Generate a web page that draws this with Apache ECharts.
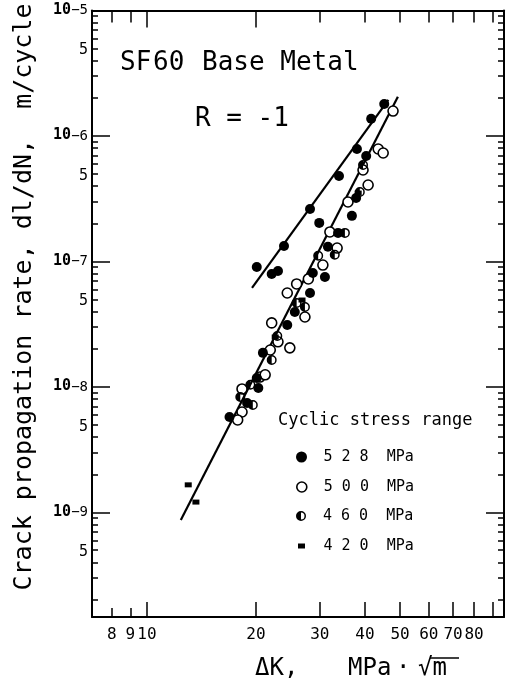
<!DOCTYPE html>
<html><head><meta charset="utf-8">
<script src="https://cdn.jsdelivr.net/npm/echarts@6/dist/echarts.min.js"></script>
<style>html,body{margin:0;padding:0;background:#fff}#c{width:509px;height:685px}</style>
</head><body><div id="c"></div>
<script>
// ---- data (ΔK in MPa·√m, dl/dN in m/cycle) ----
const xTickLabels = [8, 9, 10, 20, 30, 40, 50, 60, 70, 80];
const xLongTicks = [10, 20, 30, 40, 50, 60, 70, 80, 90];
const xShortTicks = [8, 9];
const xTopLong = [10, 20];
const xTopShort = [8, 9, 30, 40, 50, 60, 70, 80, 90];
const yDecadeExps = [-9, -8, -7, -6, -5];
const yFiveLabels = [5e-10, 5e-9, 5e-8, 5e-7, 5e-6];
const legendNames = ['528 MPa', '500 MPa', '460 MPa', '420 MPa'];

const s528 = [[45.2,1.80e-6],[41.6,1.37e-6],[38.0,7.88e-7],[33.9,4.80e-7],[28.2,2.62e-7],[23.9,1.33e-7],
  [20.1,9.03e-8],[22.1,7.95e-8],[23.0,8.40e-8],[29.9,2.03e-7],[40.3,6.93e-7],
  [37.8,3.21e-7],[36.8,2.31e-7],[33.7,1.69e-7],[31.6,1.31e-7],[28.7,8.10e-8],[31.0,7.52e-8],
  [28.2,5.61e-8],[25.6,3.96e-8],[24.4,3.12e-8],[20.9,1.87e-8],[20.1,1.18e-8],[20.3,9.82e-9],
  [18.9,7.46e-9],[16.9,5.77e-9]];
const s500 = [[47.8,1.58e-6],[43.5,7.88e-7],[44.9,7.32e-7],[39.5,5.36e-7],[40.8,4.07e-7],[35.9,2.98e-7],
  [32.0,1.72e-7],[33.5,1.28e-7],[30.6,9.37e-8],[25.9,6.62e-8],[24.4,5.61e-8],[27.9,7.26e-8],
  [27.3,3.61e-8],[22.1,3.24e-8],[23.0,2.29e-8],[24.8,2.05e-8],[21.9,1.97e-8],[20.5,1.20e-8],
  [21.2,1.25e-8],[18.3,9.64e-9],[18.3,6.32e-9],[17.8,5.46e-9]];
const s460 = [[39.5,5.88e-7],[38.7,3.58e-7],[35.2,1.69e-7],[33.0,1.13e-7],[29.7,1.11e-7],[27.3,4.34e-8],
  [25.9,4.67e-8],[22.9,2.55e-8],[22.1,1.64e-8],[19.3,1.04e-8],[19.6,7.19e-9],[18.1,8.32e-9]];
const s420 = [[13.0,1.66e-9],[13.65,1.21e-9],[22.6,2.50e-8],[26.8,4.93e-8],[38.3,3.51e-7]];
const fitUpper = [[19.5,6.15e-8],[46.4,1.94e-6]];
const fitLower = [[12.4,8.7e-10],[49.3,2.05e-6]];

// ---- build ----
const L = Math.log10;
const toLog = p => [L(p[0]), L(p[1])];
const F = 'DejaVu Sans Mono';
const X_MIN = L(7.05), X_MAX = L(96.8), Y_MIN = -9.833, Y_MAX = -5;
const yMinor = [];
for (let e = -10; e <= -6; e++) for (let m = 2; m <= 9; m++) {
  const v = L(m) + e; if (v > Y_MIN && v < Y_MAX) yMinor.push(v);
}
const HALF = 'path://M0,10A10,10 0 1,1 20,10A10,10 0 1,1 0,10ZM3,10A7,7 0 1,0 17,10A7,7 0 1,0 3,10ZM10,3A7,7 0 0,0 10,17Z';
const SQ = 'path://M0,0L7,0L7,5L0,5Z';
const blk = {color: '#000', width: 1.5};

function xAx(pos, ticks, len, line, label) {
  return {type: 'value', position: pos, min: X_MIN, max: X_MAX, splitLine: {show: false},
    axisLine: {show: !!line, onZero: false, lineStyle: {color: '#000', width: 2}},
    axisTick: {show: true, inside: true, length: len, customValues: ticks.map(L), lineStyle: blk},
    axisLabel: label || {show: false}};
}
function yAx(pos, ticks, len, line, label) {
  return {type: 'value', position: pos, min: Y_MIN, max: Y_MAX, splitLine: {show: false},
    axisLine: {show: !!line, onZero: false, lineStyle: {color: '#000', width: 2}},
    axisTick: {show: true, inside: true, length: len, customValues: ticks, lineStyle: blk},
    axisLabel: label || {show: false}};
}
const xLabel = {show: true, customValues: xTickLabels.map(L), margin: 10,
  formatter: v => String(Math.round(Math.pow(10, v))),
  color: '#000', fontFamily: F, fontSize: 16};
const yLabel = {show: true, margin: 4,
  customValues: yDecadeExps.concat(yFiveLabels.map(L)),
  formatter: v => Math.abs(v - Math.round(v)) < 1e-6
    ? '{b|10}{s|\u2212' + Math.abs(Math.round(v)) + '}' : '{n|5}',
  color: '#000', fontFamily: F, lineHeight: 16,
  rich: {
    b: {fontFamily: F, fontSize: 15, fontWeight: 'bold', lineHeight: 14, verticalAlign: 'bottom', color: '#000'},
    s: {fontFamily: F, fontSize: 14, lineHeight: 8, verticalAlign: 'top', color: '#000'},
    n: {fontFamily: F, fontSize: 15, lineHeight: 16, color: '#000', padding: [4, 0, 0, 0]}
  }};

const legRowY = [457, 487, 516, 546];
const legShift = [0, 0, 0, 2];
function mkLegend(i, icon, h, style) {
  return {show: true, selectedMode: false, orient: 'horizontal', left: 313 - 17 + legShift[i], top: legRowY[i] - 8,
    itemWidth: 34, itemHeight: h, padding: 0, itemGap: 0,
    data: [{name: legendNames[i], icon: icon, itemStyle: style}],
    formatter: n => n.replace(' MPa', '').split('').join(' ') + '  MPa',
    textStyle: {fontFamily: F, fontSize: 15, lineHeight: 16, color: '#000'}};
}

const option = {
  animation: false,
  backgroundColor: '#fff',
  grid: {left: 92, right: 5, top: 10.5, bottom: 68, containLabel: false, outerBoundsMode: 'none'},
  xAxis: [
    xAx('bottom', xLongTicks, 15, true, xLabel),
    xAx('bottom', xShortTicks, 9, false),
    xAx('top', xTopLong, 17, true),
    xAx('top', xTopShort, 12, false)
  ],
  yAxis: [
    yAx('left', yDecadeExps, 18, true, yLabel),
    yAx('left', yMinor, 6, false),
    yAx('right', yDecadeExps, 18, true),
    yAx('right', yMinor, 6, false)
  ],
  legend: [
    mkLegend(0, 'circle', 11, {color: '#000', borderWidth: 0}),
    mkLegend(1, 'circle', 10, {color: '#fff', borderColor: '#000', borderWidth: 1.6}),
    mkLegend(2, HALF, 10, {color: '#000', borderWidth: 0}),
    mkLegend(3, SQ, 5, {color: '#000', borderWidth: 0})
  ],
  series: [
    {type: 'line', name: 'fitU', data: fitUpper.map(toLog), symbol: 'none', silent: true,
      lineStyle: {color: '#000', width: 2.2}, z: 1},
    {type: 'line', name: 'fitL', data: fitLower.map(toLog), symbol: 'none', silent: true,
      lineStyle: {color: '#000', width: 2.2}, z: 1},
    {type: 'scatter', name: legendNames[1], data: s500.map(toLog), symbol: 'circle', symbolSize: 10,
      itemStyle: {color: '#fff', borderColor: '#000', borderWidth: 1.6, opacity: 1}, z: 3},
    {type: 'scatter', name: legendNames[0], data: s528.map(toLog), symbol: 'circle', symbolSize: 10,
      itemStyle: {color: '#000', opacity: 1}, z: 4},
    {type: 'scatter', name: legendNames[2], data: s460.map(toLog), symbol: HALF, symbolSize: 10,
      itemStyle: {color: '#000', opacity: 1}, z: 4},
    {type: 'scatter', name: legendNames[3], data: s420.map(toLog), symbol: SQ, symbolSize: [7, 5],
      itemStyle: {color: '#000', opacity: 1}, z: 5}
  ],
  graphic: [
    {type: 'text', x: 24, y: 297, rotation: Math.PI / 2,
      style: {text: 'Crack propagation rate, dl/dN,  m/cycle', fontFamily: F, fontSize: 25,
        fill: '#000', align: 'center', verticalAlign: 'middle'}},
    {type: 'text', x: 120, y: 63, style: {text: 'SF', fontFamily: F, fontSize: 26, fill: '#000', verticalAlign: 'middle'}},
    {type: 'text', x: 153, y: 63, style: {text: '60', fontFamily: F, fontSize: 26, fill: '#000', verticalAlign: 'middle'}},
    {type: 'text', x: 202, y: 63, style: {text: 'Base Metal', fontFamily: F, fontSize: 26, fill: '#000', verticalAlign: 'middle'}},
    {type: 'text', x: 195, y: 119, style: {text: 'R = -1', fontFamily: F, fontSize: 26, fill: '#000', verticalAlign: 'middle'}},
    {type: 'text', x: 278, y: 421, style: {text: 'Cyclic stress range', fontFamily: F, fontSize: 17, fill: '#000', verticalAlign: 'middle'}},
    {type: 'text', x: 255, y: 669, style: {text: '\u0394K,', fontFamily: F, fontSize: 24, fill: '#000', verticalAlign: 'middle'}},
    {type: 'text', x: 348, y: 669, style: {text: 'MPa', fontFamily: F, fontSize: 24, fill: '#000', verticalAlign: 'middle'}},
    {type: 'text', x: 396, y: 669, style: {text: '\u00B7', fontFamily: F, fontSize: 24, fill: '#000', verticalAlign: 'middle'}},
    {type: 'text', x: 418, y: 669, style: {text: '\u221Am', fontFamily: F, fontSize: 24, fill: '#000', verticalAlign: 'middle'}},
    {type: 'line', shape: {x1: 430, y1: 658, x2: 459, y2: 658}, style: {stroke: '#000', lineWidth: 1.5}}
  ]
};
const chart = echarts.init(document.getElementById('c'), null, {renderer: 'canvas'});
chart.setOption(option);
</script></body></html>
